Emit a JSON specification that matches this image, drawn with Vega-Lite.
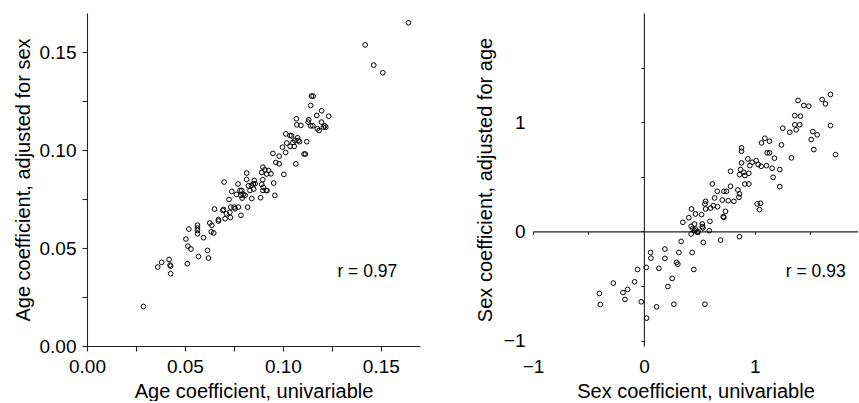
{
  "$schema": "https://vega.github.io/schema/vega-lite/v6.json",
  "padding": {"left": 13, "top": 13, "right": 0, "bottom": 0},
  "background": "white",
  "config": {
    "font": "Liberation Sans",
    "view": {"stroke": null},
    "axis": {
      "grid": false,
      "labelFont": "Liberation Sans",
      "titleFont": "Liberation Sans",
      "labelFontSize": 19,
      "titleFontSize": 20,
      "titleFontWeight": "normal",
      "labelColor": "black",
      "titleColor": "black",
      "domainColor": "#222",
      "tickColor": "#222",
      "domainWidth": 1.1,
      "tickWidth": 1.1
    }
  },
  "datasets": {
    "age": [
      {"x":0.1641,"y":0.1650},{"x":0.1420,"y":0.1537},{"x":0.1464,"y":0.1434},{"x":0.1510,"y":0.1395},
      {"x":0.0288,"y":0.0202},{"x":0.0361,"y":0.0403},{"x":0.0381,"y":0.0427},{"x":0.0419,"y":0.0442},
      {"x":0.0424,"y":0.0413},{"x":0.0427,"y":0.0408},{"x":0.0427,"y":0.0369},{"x":0.0512,"y":0.0420},
      {"x":0.0505,"y":0.0546},{"x":0.0520,"y":0.0597},{"x":0.0515,"y":0.0510},{"x":0.0531,"y":0.0495},
      {"x":0.0569,"y":0.0457},{"x":0.0564,"y":0.0617},{"x":0.0564,"y":0.0602},{"x":0.0564,"y":0.0590},
      {"x":0.0564,"y":0.0573},{"x":0.0595,"y":0.0553},{"x":0.0615,"y":0.0488},{"x":0.0620,"y":0.0449},
      {"x":0.0627,"y":0.0628},{"x":0.0637,"y":0.0616},{"x":0.0634,"y":0.0583},{"x":0.0647,"y":0.0577},
      {"x":0.0651,"y":0.0699},{"x":0.0671,"y":0.0645},{"x":0.0671,"y":0.0638},{"x":0.0693,"y":0.0692},
      {"x":0.0700,"y":0.0837},{"x":0.0697,"y":0.0697},{"x":0.0705,"y":0.0650},{"x":0.0712,"y":0.0675},
      {"x":0.0725,"y":0.0748},{"x":0.0729,"y":0.0682},{"x":0.0734,"y":0.0709},{"x":0.0732,"y":0.0656},
      {"x":0.0739,"y":0.0789},{"x":0.0751,"y":0.0709},{"x":0.0756,"y":0.0701},{"x":0.0763,"y":0.0774},
      {"x":0.0771,"y":0.0827},{"x":0.0773,"y":0.0709},{"x":0.0786,"y":0.0667},{"x":0.0786,"y":0.0769},
      {"x":0.0790,"y":0.0794},{"x":0.0792,"y":0.0755},{"x":0.0798,"y":0.0774},{"x":0.0815,"y":0.0883},
      {"x":0.0815,"y":0.0850},{"x":0.0820,"y":0.0709},{"x":0.0824,"y":0.0818},{"x":0.0832,"y":0.0794},
      {"x":0.0839,"y":0.0820},{"x":0.0841,"y":0.0753},{"x":0.0849,"y":0.0827},{"x":0.0854,"y":0.0845},
      {"x":0.0851,"y":0.0801},{"x":0.0858,"y":0.0828},{"x":0.0886,"y":0.0757},{"x":0.0892,"y":0.0886},
      {"x":0.0898,"y":0.0913},{"x":0.0892,"y":0.0825},{"x":0.0897,"y":0.0849},{"x":0.0900,"y":0.0810},
      {"x":0.0898,"y":0.0794},{"x":0.0908,"y":0.0900},{"x":0.0917,"y":0.0878},{"x":0.0919,"y":0.0793},
      {"x":0.0927,"y":0.0896},{"x":0.0939,"y":0.0879},{"x":0.0949,"y":0.0983},{"x":0.0953,"y":0.0832},
      {"x":0.0959,"y":0.0769},{"x":0.0964,"y":0.0937},{"x":0.0981,"y":0.0969},{"x":0.0981,"y":0.0930},
      {"x":0.0998,"y":0.1015},{"x":0.1005,"y":0.0876},{"x":0.1014,"y":0.0988},{"x":0.1015,"y":0.1083},
      {"x":0.1020,"y":0.1036},{"x":0.1037,"y":0.1019},{"x":0.1044,"y":0.1073},{"x":0.1051,"y":0.1039},
      {"x":0.1061,"y":0.1049},{"x":0.1066,"y":0.0930},{"x":0.1069,"y":0.1160},{"x":0.1071,"y":0.1129},
      {"x":0.1075,"y":0.1063},{"x":0.1078,"y":0.1049},{"x":0.1085,"y":0.1043},{"x":0.1092,"y":0.1126},
      {"x":0.1108,"y":0.0980},{"x":0.1115,"y":0.0980},{"x":0.1122,"y":0.1043},{"x":0.1129,"y":0.1143},
      {"x":0.1132,"y":0.1155},{"x":0.1142,"y":0.1228},{"x":0.1142,"y":0.1124},{"x":0.1146,"y":0.1276},
      {"x":0.1154,"y":0.1276},{"x":0.1153,"y":0.1124},{"x":0.1173,"y":0.1177},{"x":0.1176,"y":0.1109},
      {"x":0.1185,"y":0.1100},{"x":0.1198,"y":0.1201},{"x":0.1197,"y":0.1143},{"x":0.1207,"y":0.1117},
      {"x":0.1214,"y":0.1124},{"x":0.1234,"y":0.1173},{"x":0.1219,"y":0.1117},{"x":0.0807,"y":0.0769},
      {"x":0.0781,"y":0.0794},{"x":0.1036,"y":0.1075},{"x":0.1058,"y":0.1019},{"x":0.0915,"y":0.0794}
    ],
    "sex": [
      {"x":1.682,"y":1.254},{"x":1.607,"y":1.208},{"x":1.637,"y":1.168},{"x":1.390,"y":1.199},
      {"x":1.441,"y":1.153},{"x":1.486,"y":1.147},{"x":1.360,"y":1.061},{"x":1.411,"y":1.055},
      {"x":1.360,"y":0.976},{"x":1.405,"y":0.976},{"x":1.252,"y":0.945},{"x":1.315,"y":0.908},
      {"x":1.372,"y":0.930},{"x":1.682,"y":0.969},{"x":1.523,"y":0.914},{"x":1.562,"y":0.884},
      {"x":1.508,"y":0.841},{"x":1.532,"y":0.749},{"x":1.727,"y":0.703},{"x":1.090,"y":0.853},
      {"x":1.060,"y":0.810},{"x":1.132,"y":0.826},{"x":1.240,"y":0.792},{"x":1.111,"y":0.719},
      {"x":1.132,"y":0.719},{"x":1.177,"y":0.670},{"x":1.330,"y":0.673},{"x":0.880,"y":0.765},
      {"x":0.880,"y":0.734},{"x":0.937,"y":0.664},{"x":0.976,"y":0.633},{"x":1.012,"y":0.648},
      {"x":1.030,"y":0.612},{"x":1.057,"y":0.596},{"x":0.955,"y":0.602},{"x":1.105,"y":0.602},
      {"x":1.156,"y":0.578},{"x":1.225,"y":0.566},{"x":1.165,"y":0.495},{"x":1.225,"y":0.410},
      {"x":0.880,"y":0.627},{"x":0.871,"y":0.566},{"x":0.901,"y":0.541},{"x":0.862,"y":0.520},
      {"x":0.910,"y":0.511},{"x":0.946,"y":0.532},{"x":0.910,"y":0.434},{"x":0.946,"y":0.434},
      {"x":0.781,"y":0.550},{"x":0.616,"y":0.434},{"x":0.781,"y":0.413},{"x":0.661,"y":0.367},
      {"x":0.721,"y":0.367},{"x":0.745,"y":0.367},{"x":0.847,"y":0.379},{"x":0.862,"y":0.343},
      {"x":0.856,"y":0.312},{"x":0.706,"y":0.287},{"x":0.760,"y":0.281},{"x":0.811,"y":0.275},
      {"x":0.637,"y":0.306},{"x":0.556,"y":0.275},{"x":0.550,"y":0.251},{"x":0.625,"y":0.235},
      {"x":0.664,"y":0.226},{"x":0.601,"y":0.214},{"x":0.556,"y":0.205},{"x":0.429,"y":0.205},
      {"x":0.736,"y":0.183},{"x":0.715,"y":0.135},{"x":0.721,"y":0.128},{"x":0.520,"y":0.153},
      {"x":0.465,"y":0.159},{"x":0.405,"y":0.125},{"x":0.351,"y":0.083},{"x":0.595,"y":0.092},
      {"x":0.526,"y":0.067},{"x":0.456,"y":0.067},{"x":0.426,"y":0.046},{"x":0.441,"y":0.028},
      {"x":0.456,"y":0.006},{"x":0.480,"y":-0.009},{"x":0.426,"y":-0.024},{"x":0.532,"y":0.031},
      {"x":0.589,"y":0.006},{"x":1.021,"y":0.251},{"x":1.051,"y":0.257},{"x":1.042,"y":0.199},
      {"x":0.862,"y":-0.049},{"x":0.691,"y":-0.080},{"x":0.535,"y":-0.101},{"x":0.336,"y":-0.092},
      {"x":0.315,"y":-0.193},{"x":0.435,"y":-0.193},{"x":0.189,"y":-0.162},{"x":0.189,"y":-0.248},
      {"x":0.060,"y":-0.193},{"x":0.063,"y":-0.245},{"x":0.294,"y":-0.284},{"x":0.306,"y":-0.300},
      {"x":0.021,"y":-0.330},{"x":0.135,"y":-0.339},{"x":-0.057,"y":-0.349},{"x":0.450,"y":-0.349},
      {"x":0.255,"y":-0.431},{"x":0.216,"y":-0.505},{"x":-0.084,"y":-0.462},{"x":-0.276,"y":-0.474},
      {"x":-0.147,"y":-0.532},{"x":-0.189,"y":-0.560},{"x":-0.171,"y":-0.624},{"x":-0.402,"y":-0.569},
      {"x":-0.393,"y":-0.670},{"x":-0.024,"y":-0.645},{"x":0.114,"y":-0.691},{"x":0.270,"y":-0.667},
      {"x":0.550,"y":-0.667},{"x":0.024,"y":-0.795},{"x":0.489,"y":-0.003},{"x":0.465,"y":0.021},
      {"x":0.526,"y":0.043}
    ]
  },
  "spacing": 113,
  "bounds": "flush",
  "hconcat": [
    {
      "width": 333,
      "height": 333,
      "layer": [
        {
          "data": {"name": "age"},
          "mark": {"type": "point", "shape": "circle", "filled": false, "color": "black", "size": 22, "strokeWidth": 1, "opacity": 1},
          "encoding": {
            "x": {
              "field": "x", "type": "quantitative",
              "scale": {"domain": [0, 0.17], "nice": false, "zero": false},
              "axis": {
                "title": "Age coefficient, univariable",
                "values": [0, 0.025, 0.05, 0.075, 0.1, 0.125, 0.15],
                "labelExpr": "round(datum.value*1000) % 50 == 0 ? format(datum.value, '.2f') : ''",
                "tickSize": 5, "labelPadding": 6, "titlePadding": 5,
                "labelOverlap": false, "labelFlush": false
              }
            },
            "y": {
              "field": "y", "type": "quantitative",
              "scale": {"domain": [0, 0.17], "nice": false, "zero": false},
              "axis": {
                "title": "Age coefficient, adjusted for sex",
                "values": [0, 0.025, 0.05, 0.075, 0.1, 0.125, 0.15],
                "labelExpr": "round(datum.value*1000) % 50 == 0 ? format(datum.value, '.2f') : ''",
                "tickSize": 5, "labelPadding": 6, "titlePadding": 6,
                "labelOverlap": false, "labelFlush": false
              }
            }
          }
        },
        {
          "data": {"values": [{"x": 0.1584, "y": 0.0352, "label": "r = 0.97"}]},
          "mark": {"type": "text", "align": "right", "baseline": "alphabetic", "fontSize": 17.5, "color": "black", "font": "Liberation Sans"},
          "encoding": {
            "x": {"field": "x", "type": "quantitative"},
            "y": {"field": "y", "type": "quantitative"},
            "text": {"field": "label"}
          }
        }
      ]
    },
    {
      "width": 325,
      "height": 333,
      "resolve": {"axis": {"x": "independent", "y": "independent"}},
      "layer": [
        {
          "data": {"name": "sex"},
          "mark": {"type": "point", "shape": "circle", "filled": false, "color": "black", "size": 22, "strokeWidth": 1, "opacity": 1},
          "encoding": {
            "x": {
              "field": "x", "type": "quantitative",
              "scale": {"domain": [-1, 1.93], "nice": false, "zero": false},
              "axis": {
                "title": "Sex coefficient, univariable", "orient": "bottom",
                "values": [-1, 0, 1], "format": "d",
                "domain": false, "ticks": false, "tickSize": 0,
                "labelPadding": 11, "titlePadding": 5, "labelFlush": false
              }
            },
            "y": {
              "field": "y", "type": "quantitative",
              "scale": {"domain": [-1.05, 2.0], "nice": false, "zero": false},
              "axis": {
                "title": "Sex coefficient, adjusted for age", "orient": "left",
                "values": [-1, 0, 1], "format": "d",
                "domain": false, "ticks": false, "tickSize": 0,
                "labelPadding": 8, "titlePadding": 8, "labelFlush": false
              }
            }
          }
        },
        {
          "data": {"values": [{"x": 1.819, "y": -0.418, "label": "r = 0.93"}]},
          "mark": {"type": "text", "align": "right", "baseline": "alphabetic", "fontSize": 17.5, "color": "black", "font": "Liberation Sans"},
          "encoding": {
            "x": {
              "field": "x", "type": "quantitative",
              "axis": {
                "title": null, "orient": "bottom", "offset": -114.6,
                "values": [-1, -0.5, 0, 0.5, 1, 1.5],
                "labels": false, "domain": true, "ticks": true, "tickSize": 3
              }
            },
            "y": {
              "field": "y", "type": "quantitative",
              "axis": {
                "title": null, "orient": "left", "offset": -110.9,
                "values": [-1, -0.5, 0, 0.5, 1, 1.5],
                "labels": false, "domain": true, "ticks": true, "tickSize": 3
              }
            },
            "text": {"field": "label"}
          }
        }
      ]
    }
  ]
}
